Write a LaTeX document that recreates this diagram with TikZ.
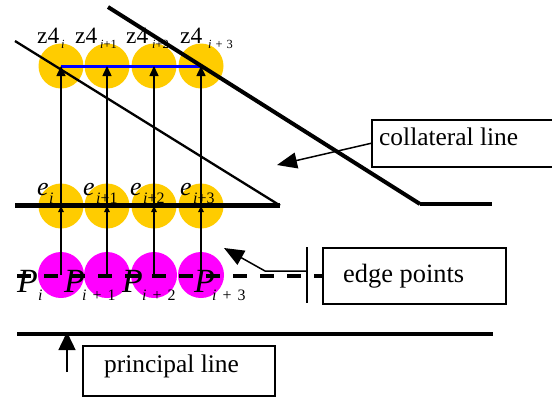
\documentclass[tikz,border=0pt]{standalone}
\usepackage{fontspec}
\setmainfont{Liberation Serif}
\usetikzlibrary{arrows.meta}
\definecolor{myyellow}{RGB}{255,204,0}
\definecolor{mymagenta}{RGB}{255,0,255}
\definecolor{myblue}{RGB}{0,0,255}
\newcommand{\fsz}[1]{\fontsize{#1}{#1}\selectfont}
\begin{document}
\begin{tikzpicture}[x=1bp,y=-1bp,
  ydot/.style={circle, fill=myyellow, minimum size=45bp, inner sep=0pt},
  mdot/.style={circle, fill=mymagenta, minimum size=46bp, inner sep=0pt},
  lbl/.style={anchor=base west, inner sep=0pt},
  zmain/.style={lbl, font=\fsz{23.5}},
  zsub/.style={lbl, font=\fsz{12.5}},
  emain/.style={lbl, font=\fsz{26}\itshape},
  esub/.style={lbl, font=\fsz{16}},
  pmain/.style={lbl, font=\fsz{34}\itshape},
  psub/.style={lbl, font=\fsz{16}},
  boxtext/.style={lbl, font=\fsz{25.5}},
  labelbox/.style={draw, line width=1.6bp, anchor=north west, inner sep=0pt},
  thickline/.style={line width=4.5bp},
  upbig/.style={line width=1.5bp, -{Triangle[length=10bp,width=9bp]}},
  upsmall/.style={line width=1.3bp, -{Triangle[length=6bp,width=5.5bp]}},
  callout/.style={line width=1.5bp, -{Triangle[length=20bp,width=16bp]}},
]
\clip (0,0) rectangle (552,397);
\useasboundingbox (0,0) rectangle (552,397);
% circles
\foreach \n/\x in {1/61,2/107,3/154,4/201}{
  \node[ydot] (z\n) at (\x,66) {};
  \node[ydot] (e\n) at (\x,206) {};
  \node[mdot] (p\n) at (\x,275) {};
}
% blue line
\draw[myblue, line width=3bp] (z1.center) -- (z4.center);
% diagonal lines and horizontals
\coordinate (tl1) at (15,41);
\coordinate (el0) at (15,205.5);
\coordinate (el1) at (280,205.5);
\draw[line width=2.3bp] (tl1) -- (el1);
\draw[thickline] (el0) -- (el1);
\coordinate (td0) at (108,7);
\coordinate (td1) at (420,204);
\coordinate (td2) at (492,204);
\draw[line width=4bp] (td0) -- (td1);
\draw[thickline] (td1) -- (td2);
% dashed edge line
\coordinate (dl0) at (17,276);
\coordinate (dl1) at (322,276);
\draw[line width=4.5bp, dash pattern=on 14bp off 13bp] (dl0) -- (dl1);
% principal line
\coordinate (pl0) at (17,334);
\coordinate (pl1) at (493,334);
\draw[line width=4.7bp] (pl0) -- (pl1);
% vertical arrows
\foreach \n in {1,2,3,4}{
  \draw[upsmall] (p\n.center) -- (e\n.center);
  \draw[upbig] (e\n.center) -- (z\n.center);
}
% labels z4
\node[zmain] (lz1) at (37,43) {z4};
\node[zmain] (lz2) at (75,43) {z4};
\node[zmain] (lz3) at (126,43) {z4};
\node[zmain] (lz4) at (180,43) {z4};
\node[zsub] (sz1) at (61,48) {\textit{i}};
\node[zsub] (sz2) at (100,48) {\textit{i}+1};
\node[zsub] (sz3) at (152,48) {\textit{i}+2};
\node[zsub] (sz4) at (208,48) {\textit{i}\hspace{4bp}+\hspace{4bp}3};
% labels e
\node[emain] (le1) at (37,195) {e};
\node[emain] (le2) at (83,195) {e};
\node[emain] (le3) at (130,195) {e};
\node[emain] (le4) at (180,195) {e};
\node[esub] (se1) at (49,203) {\textit{i}};
\node[esub] (se2) at (96,203) {\textit{i}+1};
\node[esub] (se3) at (143,203) {\textit{i}+2};
\node[esub] (se4) at (193,203) {\textit{i}+3};
% labels P
\node[pmain] (lp1) at (17,292) {P};
\node[pmain] (lp2) at (64,292) {P};
\node[pmain] (lp3) at (122,292) {P};
\node[pmain] (lp4) at (194,292) {P};
\node[psub] (sp1) at (38,300) {\textit{i}};
\node[psub] (sp2) at (82,300) {\textit{i}\hspace{6bp}+\hspace{6bp}1};
\node[psub] (sp3) at (142,300) {\textit{i}\hspace{6bp}+\hspace{6bp}2};
\node[psub] (sp4) at (212,300) {\textit{i}\hspace{6bp}+\hspace{6bp}3};
% collateral line box
\node[labelbox, minimum width=186bp, minimum height=47bp] (colbox) at (371,119) {};
\node[boxtext] (coltext) at (379,145) {collateral line};
\coordinate (coltip) at (277,165);
\draw[callout] (colbox.west) -- (coltip);
% edge points box
\node[labelbox, minimum width=183bp, minimum height=56bp] (edgebox) at (322,247) {};
\node[boxtext, font=\fsz{26.5}] (edgetext) at (343,282) {edge points};
\coordinate (bar0) at (307,247);
\coordinate (bar1) at (307,303);
\draw[line width=1.8bp] (bar0) -- (bar1);
\coordinate (ebend0) at (307,271);
\coordinate (ebend1) at (265,271);
\coordinate (etip) at (224,248);
\draw[callout] (ebend0) -- (ebend1) -- (etip);
% principal line box
\node[labelbox, minimum width=192bp, minimum height=50bp] (prbox) at (82,345) {};
\node[boxtext] (prtext) at (104,372) {principal line};
\coordinate (pa0) at (67,372);
\coordinate (pa1) at (67,332);
\draw[line width=1.5bp, -{Triangle[length=18bp,width=17bp]}] (pa0) -- (pa1);
\end{tikzpicture}
\end{document}
